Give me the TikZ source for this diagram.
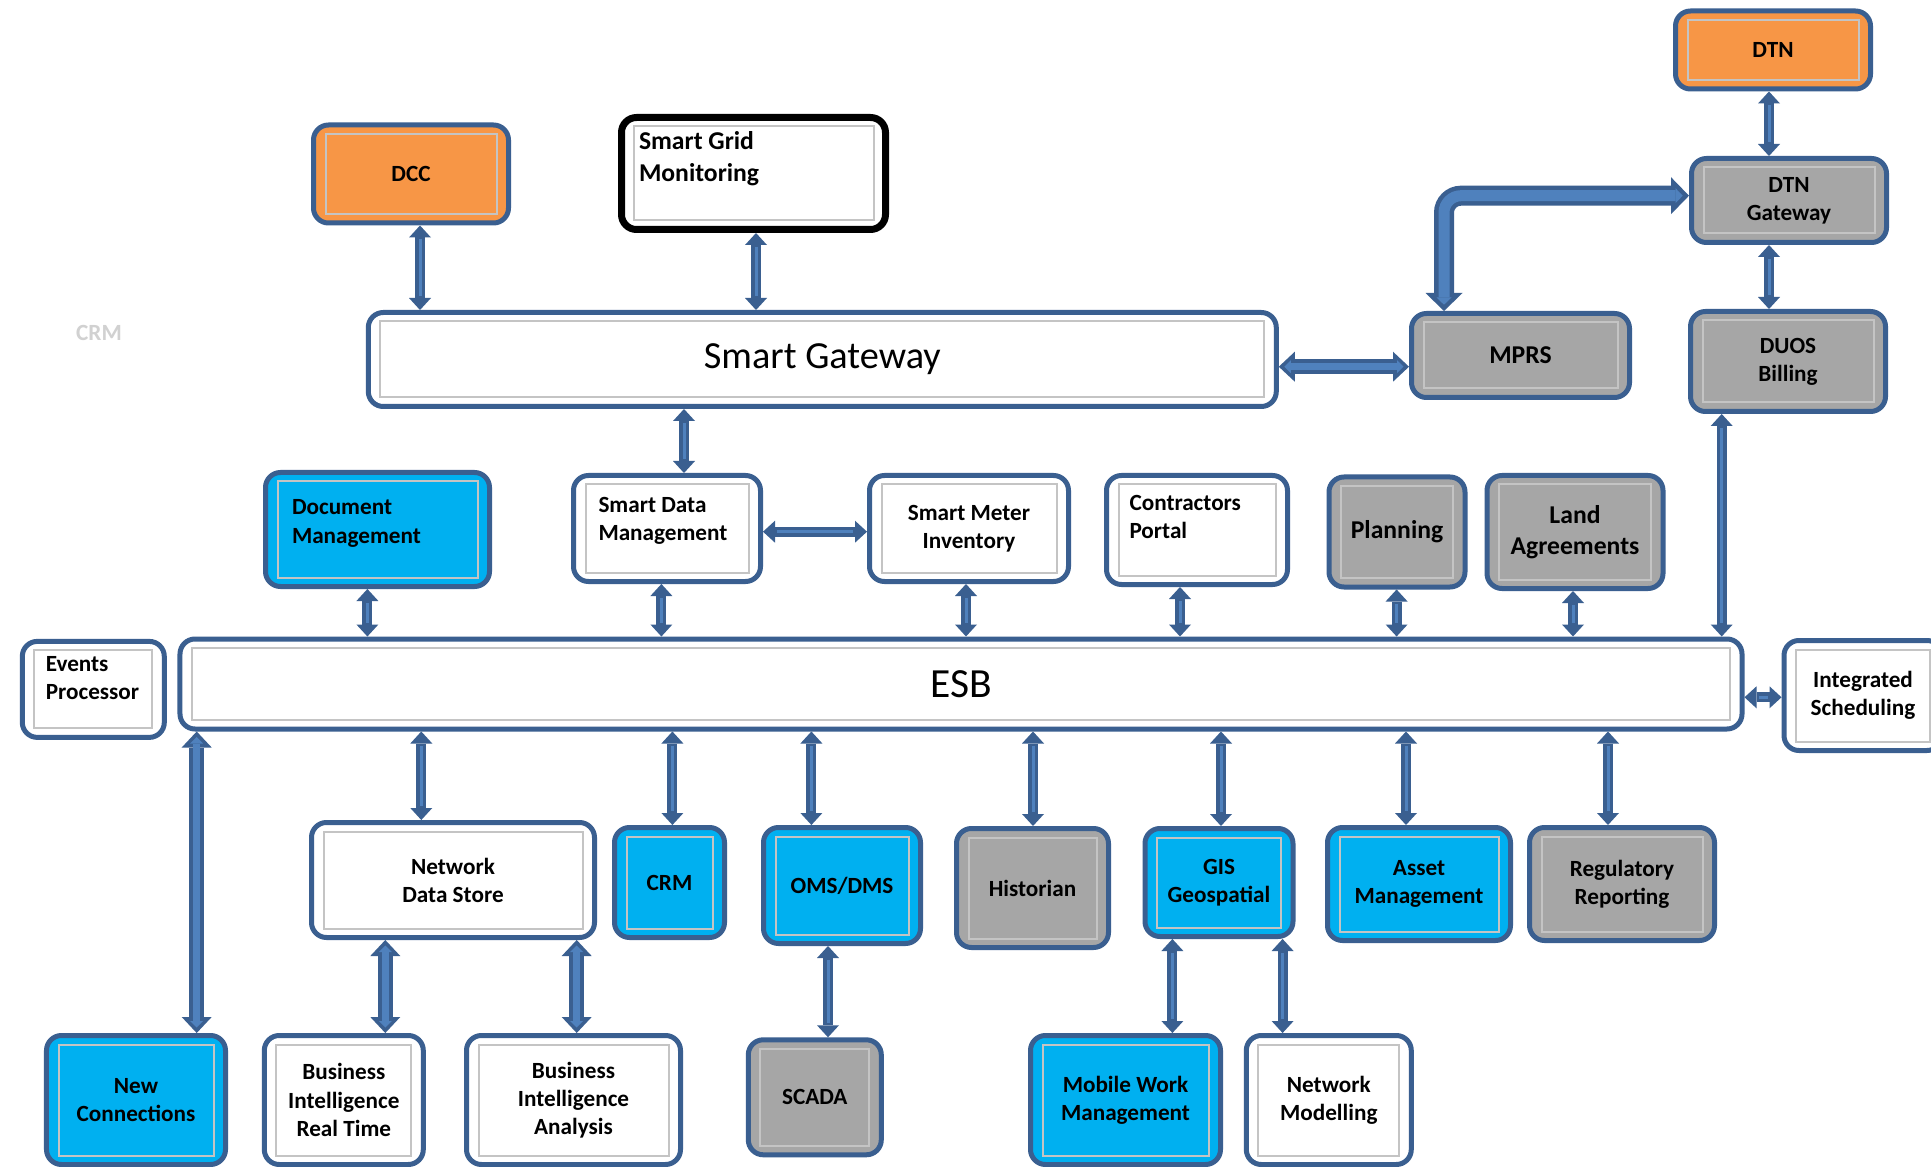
\documentclass[tikz,border=0pt]{standalone}
\usepackage{fontspec}
\setmainfont{Carlito}
\usetikzlibrary{arrows.meta}
\definecolor{boxline}{HTML}{3A5F90}
\definecolor{innerline}{HTML}{C4C4C4}
\definecolor{linkline}{HTML}{3A5F90}
\definecolor{linkfill}{HTML}{4F81BD}
\definecolor{dccorange}{HTML}{F79646}
\definecolor{appblue}{HTML}{00B0F0}
\definecolor{legacygrey}{HTML}{A6A6A6}
\newcommand\nodefont{\bfseries\fontsize{6.6}{8.0}\selectfont}
\newcommand\bignodefont{\bfseries\fontsize{7.3}{9.0}\selectfont}
\newcommand\gatewayfont{\fontsize{10.9}{13}\selectfont}
\newcommand\esbfont{\fontsize{11.8}{14}\selectfont}
% left aligned lines, raised a little inside the box
\newcommand\leftlines[3]{\makebox[#1][l]{\raisebox{#2}[0pt][0pt]{\begin{tabular}{@{}l@{}}#3\end{tabular}}}}

\begin{document}
\begin{tikzpicture}[x=1mm,y=-1mm,
	box/.style={rectangle,rounded corners=1.5mm,draw=boxline,line width=0.5mm,fill=white,inner sep=0pt,align=center,font=\nodefont,
		path picture={\draw[innerline,line width=0.2mm,sharp corners] ([shift={(1.2mm,0.9mm)}]path picture bounding box.south west) rectangle ([shift={(-1.2mm,-0.9mm)}]path picture bounding box.north east);}},
	orange box/.style={box,fill=dccorange},
	blue box/.style={box,fill=appblue},
	grey box/.style={box,fill=legacygrey},
	boxsize/.style 2 args={minimum width=#1mm,minimum height=#2mm},
	link/.style={draw=linkline,line width=1mm,
		{Triangle[width=2.2mm,length=1.2mm,line width=0pt]}-{Triangle[width=2.2mm,length=1.2mm,line width=0pt]},
		postaction={draw=linkfill,line width=0.3mm,arrows=-,shorten <=1.4mm,shorten >=1.4mm}},
	wide link/.style={draw=linkline,line width=1.5mm,
		{Triangle[width=3mm,length=1.6mm,line width=0pt]}-{Triangle[width=3mm,length=1.6mm,line width=0pt]},
		postaction={draw=linkfill,line width=0.75mm,{Triangle[width=1.3mm,length=0.65mm,line width=0pt]}-{Triangle[width=1.3mm,length=0.65mm,line width=0pt]},shorten <=0.55mm,shorten >=0.55mm}},
	fat link/.style={draw=linkline,line width=2mm,
		{Triangle[width=3.7mm,length=1.8mm,line width=0pt]}-{Triangle[width=3.7mm,length=1.8mm,line width=0pt]},
		postaction={draw=linkfill,line width=1.1mm,{Triangle[width=1.5mm,length=0.72mm,line width=0pt]}-{Triangle[width=1.5mm,length=0.72mm,line width=0pt]},shorten <=0.63mm,shorten >=0.63mm}}]
	\useasboundingbox[fill=white] (0,0) rectangle (193.1,116.7);
	\clip (0,0) rectangle (193.1,116.7);

	% top row
	\node (dtn) at (177.3,5.0) [orange box,boxsize={19.5}{7.8}] {DTN};
	\node (dtng) at (178.9,20.05) [grey box,boxsize={19.5}{8.4}] {DTN\\Gateway};
	\node (duos) at (178.8,36.15) [grey box,boxsize={19.5}{10.0}] {DUOS\\Billing};
	\node (mprs) at (152.05,35.55) [grey box,font=\bignodefont,boxsize={21.8}{8.4}] {MPRS};
	\node (dcc) at (41.1,17.4) [orange box,boxsize={19.5}{9.8}] {DCC};
	\node (sgm) at (75.35,17.35) [box,draw=black,line width=0.7mm,font=\bignodefont,boxsize={26.4}{11.2}] {\leftlines{22.9mm}{0.8mm}{Smart Grid\\Monitoring}};
	\node (gw) at (82.23,35.95) [box,font=\gatewayfont,boxsize={90.8}{9.4}] {Smart Gateway};
	\node (ghost) at (9.9,33.25) [text=black!18,font=\nodefont] {CRM};

	% middle row
	\node (docm) at (37.75,52.95) [blue box,boxsize={22.4}{11.4}] {\leftlines{17.1mm}{0mm}{Document\\Management}};
	\node (sdm) at (66.7,52.85) [box,boxsize={18.7}{10.6}] {\leftlines{13.7mm}{0.15mm}{Smart Data\\Management}};
	\node (smi) at (96.9,52.85) [box,boxsize={19.9}{10.6}] {Smart Meter\\Inventory};
	\node (cp) at (119.7,53.0) [box,boxsize={18.1}{10.9}] {\leftlines{13.5mm}{0.5mm}{Contractors\\Portal}};
	\node (plan) at (139.7,53.2) [grey box,font=\bignodefont,boxsize={13.6}{11.0}] {Planning};
	\node (land) at (157.5,53.2) [grey box,font=\bignodefont,boxsize={17.6}{11.3}] {Land\\Agreements};

	% bus
	\node (esb) at (96.1,68.4) [box,font=\esbfont,boxsize={156.2}{9.0}] {ESB};
	\node (ep) at (9.33,68.94) [box,boxsize={14.2}{9.6}] {\leftlines{9.5mm}{0.3mm}{Events\\Processor}};
	\node (is) at (186.3,69.55) [box,boxsize={15.8}{11.0}] {Integrated\\Scheduling};

	% lower row
	\node (nds) at (45.3,88.0) [box,boxsize={28.3}{11.5}] {Network\\Data Store};
	\node (crm) at (66.95,88.25) [blue box,boxsize={11.0}{11.0}] {CRM};
	\node (oms) at (84.2,88.55) [blue box,boxsize={15.7}{11.6}] {OMS/DMS};
	\node (hist) at (103.25,88.8) [grey box,boxsize={15.2}{11.9}] {Historian};
	\node (gis) at (121.9,88.25) [blue box,boxsize={14.8}{10.8}] {GIS\\Geospatial};
	\node (asset) at (141.9,88.4) [blue box,boxsize={18.3}{11.3}] {Asset\\Management};
	\node (reg) at (162.2,88.4) [grey box,boxsize={18.5}{11.3}] {Regulatory\\Reporting};

	% bottom row
	\node (nc) at (13.6,110.0) [blue box,boxsize={17.9}{12.9}] {New\\Connections};
	\node (birt) at (34.38,110.0) [box,boxsize={15.9}{12.9}] {Business\\Intelligence\\Real Time};
	\node (bia) at (57.35,110.0) [box,boxsize={21.4}{12.9}] {Business\\Intelligence\\Analysis};
	\node (scada) at (81.48,109.73) [grey box,boxsize={13.3}{11.5}] {SCADA};
	\node (mwm) at (112.55,110.0) [blue box,boxsize={19.0}{12.9}] {Mobile Work\\Management};
	\node (nm) at (132.88,110.0) [box,boxsize={16.5}{12.9}] {Network\\Modelling};

	% links above the bus
	\draw [link] (dcc.south -| 42.0,0) -- (gw.north -| 42.0,0);
	\draw [link] (sgm.south -| 75.6,0) -- (gw.north -| 75.6,0);
	\draw [link] (dtn.south -| 176.9,0) -- (dtng.north -| 176.9,0);
	\draw [link] (dtng.south -| 176.9,0) -- (duos.north -| 176.9,0);
	\draw [wide link] (gw.east |- 0,36.67) -- (mprs.west |- 0,36.67);
	\draw [fat link,rounded corners=1.7mm] (mprs.north -| 144.4,0) |- (dtng.west |- 0,19.57);
	\draw [link] (gw.south -| 68.4,0) -- (sdm.north -| 68.4,0);
	\draw [link] (sdm.east |- 0,53.17) -- (smi.west |- 0,53.17);
	\draw [link] (docm.south -| 36.74,0) -- (esb.north -| 36.74,0);
	\draw [link] (sdm.south -| 66.14,0) -- (esb.north -| 66.14,0);
	\draw [link] (smi.south -| 96.6,0) -- (esb.north -| 96.6,0);
	\draw [link] (cp.south -| 118.0,0) -- (esb.north -| 118.0,0);
	\draw [link] (plan.south -| 139.66,0) -- (esb.north -| 139.66,0);
	\draw [link] (land.south -| 157.3,0) -- (esb.north -| 157.3,0);
	\draw [link] (duos.south -| 172.17,0) -- (esb.north -| 172.17,0);
	\draw [link] (esb.east |- 0,69.73) -- (is.west |- 0,69.73);

	% links below the bus
	\draw [wide link] (esb.south -| 19.67,0) -- (nc.north -| 19.67,0);
	\draw [link] (esb.south -| 42.13,0) -- (nds.north -| 42.13,0);
	\draw [link] (esb.south -| 67.24,0) -- (crm.north -| 67.24,0);
	\draw [link] (esb.south -| 81.14,0) -- (oms.north -| 81.14,0);
	\draw [link] (esb.south -| 103.3,0) -- (hist.north -| 103.3,0);
	\draw [link] (esb.south -| 122.1,0) -- (gis.north -| 122.1,0);
	\draw [link] (esb.south -| 140.6,0) -- (asset.north -| 140.6,0);
	\draw [link] (esb.south -| 160.8,0) -- (reg.north -| 160.8,0);
	\draw [wide link] (nds.south -| 38.53,0) -- (birt.north -| 38.53,0);
	\draw [wide link] (nds.south -| 57.67,0) -- (bia.north -| 57.67,0);
	\draw [link] (oms.south -| 82.8,0) -- (scada.north -| 82.8,0);
	\draw [link] (gis.south -| 117.24,0) -- (mwm.north -| 117.24,0);
	\draw [link] (gis.south -| 128.26,0) -- (nm.north -| 128.26,0);
\end{tikzpicture}
\end{document}
